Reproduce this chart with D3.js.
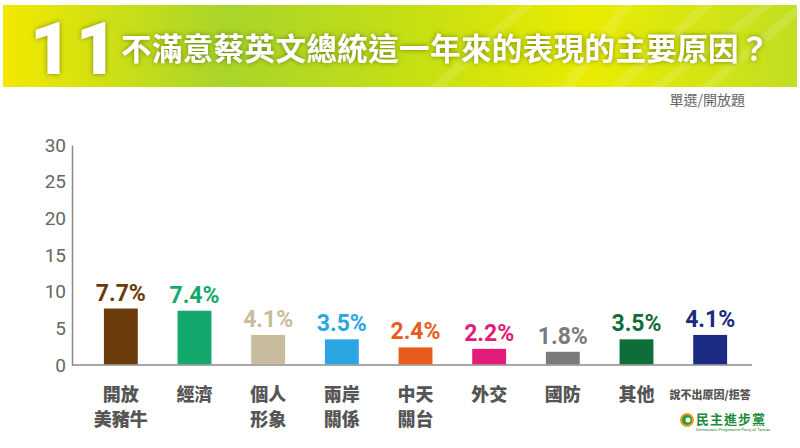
<!DOCTYPE html>
<html>
<head>
<meta charset="utf-8">
<script src="https://cdn.jsdelivr.net/npm/d3@7"></script>
<style>
  body { margin: 0; background: #fff; }
  svg { display: block; }
</style>
</head>
<body>
<script>
const width = 800;
const height = 448;

const categories = ['開放\n美豬牛', '經濟', '個人\n形象', '兩岸\n關係', '中天\n關台', '外交', '國防', '其他', '說不出原因/拒答'];
const values = [7.7, 7.4, 4.1, 3.5, 2.4, 2.2, 1.8, 3.5, 4.1];
const colors = ['#6b3b0c', '#14a96c', '#c9bb9d', '#2ba6e2', '#e85d1d', '#e31b7b', '#7b7b7b', '#0d6e3a', '#1b2a82'];
const yTicks = [0, 5, 10, 15, 20, 25, 30];

const svg = d3.select('body')
  .append('svg')
    .attr('width', width)
    .attr('height', height)
    .attr('viewBox', [0, 0, width, height].join(' '));

const defs = svg.append('defs');

const grad = defs.append('linearGradient')
  .attr('id', 'banner')
  .attr('x1', '0%').attr('x2', '100%');
[['0%', '#f2e900'], ['28%', '#a8d52a'], ['52%', '#c6df12'], ['74%', '#e9ec00'], ['100%', '#c2de22']]
  .forEach(([o, c]) => grad.append('stop').attr('offset', o).attr('stop-color', c));

const glow = defs.append('filter').attr('id', 'glow')
  .attr('x', '-20%').attr('y', '-20%').attr('width', '140%').attr('height', '140%');
glow.append('feDropShadow')
  .attr('dx', 0).attr('dy', 0).attr('stdDeviation', 2.5)
  .attr('flood-color', '#4a5a00').attr('flood-opacity', 0.7);

// banner
const banner = svg.append('g');
banner.append('rect')
  .attr('x', 3).attr('y', 5)
  .attr('width', 794).attr('height', 82)
  .attr('fill', 'url(#banner)');

// faint diagonal streaks on the banner
const streaks = [[560, 620], [610, 700], [650, 760], [700, 797], [430, 520]];
banner.selectAll('.streak')
  .data(streaks)
  .enter()
  .append('polygon')
    .attr('points', d => `${d[0]},87 ${d[0] + 14},87 ${d[1] + 14},5 ${d[1]},5`)
    .attr('fill', '#ffffff')
    .attr('opacity', 0.12);

banner.append('text')
  .attr('x', 30).attr('y', 74)
  .attr('font-family', 'Roboto, "Noto Sans", sans-serif')
  .attr('font-weight', 900)
  .attr('font-size', 72)
  .attr('fill', '#fff')
  .attr('letter-spacing', 4)
  .attr('filter', 'url(#glow)')
  .text('11');

banner.append('text')
  .attr('x', 121).attr('y', 60)
  .attr('font-family', '"Noto Sans CJK TC", sans-serif')
  .attr('font-weight', 700)
  .attr('font-size', 30.5)
  .attr('letter-spacing', 0.4)
  .attr('fill', '#fff')
  .attr('filter', 'url(#glow)')
  .text('不滿意蔡英文總統這一年來的表現的主要原因？');

svg.append('text')
  .attr('x', 745).attr('y', 105)
  .attr('text-anchor', 'end')
  .attr('font-family', '"Noto Sans CJK TC", sans-serif')
  .attr('font-size', 14)
  .attr('fill', '#666')
  .text('單選/開放題');

// chart
const x = d3.scaleBand()
  .domain(categories)
  .range([84, 747])
  .paddingInner(0.54)
  .paddingOuter(0.27);

const y = d3.scaleLinear()
  .domain([0, 30])
  .range([365, 145]);

const yAxis = d3.axisLeft(y)
  .tickValues(yTicks)
  .tickSize(0)
  .tickPadding(6);

const axisG = svg.append('g')
  .attr('transform', 'translate(72,0)')
  .call(yAxis);
axisG.select('.domain').attr('stroke', '#8a8a8a').attr('stroke-width', 1.5);
axisG.selectAll('text')
  .attr('font-family', 'Roboto, "Noto Sans", sans-serif')
  .attr('font-size', 19)
  .attr('fill', '#666');

svg.append('line')
  .attr('x1', 72).attr('x2', 752)
  .attr('y1', y(0)).attr('y2', y(0))
  .attr('stroke', '#8a8a8a')
  .attr('stroke-width', 1.5);

const bars = svg.append('g');

bars.selectAll('.bar')
  .data(values)
  .enter()
  .append('rect')
    .attr('class', 'bar')
    .attr('x', (d, i) => x(categories[i]))
    .attr('y', d => y(d))
    .attr('width', x.bandwidth())
    .attr('height', d => y(0) - y(d) - 0.75)
    .attr('fill', (d, i) => colors[i]);

bars.selectAll('.value')
  .data(values)
  .enter()
  .append('text')
    .attr('class', 'value')
    .attr('x', (d, i) => x(categories[i]) + x.bandwidth() / 2)
    .attr('y', d => y(d) - 8)
    .attr('text-anchor', 'middle')
    .attr('font-family', 'Roboto, "Noto Sans", sans-serif')
    .attr('font-weight', 700)
    .attr('font-size', 23)
    .attr('fill', (d, i) => colors[i])
    .text(d => d.toFixed(1) + '%');

// category labels, one text per line
const labels = svg.append('g');
categories.forEach((c, i) => {
  const cx = x(c) + x.bandwidth() / 2;
  const lines = c.split('\n');
  const small = lines.length === 1 && c.length > 4;
  lines.forEach((line, j) => {
    labels.append('text')
      .attr('x', cx)
      .attr('y', (small ? 399 : 401) + j * 24.5)
      .attr('text-anchor', 'middle')
      .attr('font-family', '"Noto Sans CJK TC", sans-serif')
      .attr('font-weight', 900)
      .attr('font-size', small ? 11 : 18)
      .attr('fill', '#555')
      .text(line);
  });
});

// party logo
const logo = svg.append('g').attr('transform', 'translate(687,420)');
logo.append('circle').attr('r', 7).attr('fill', '#e8a020');
logo.append('circle').attr('r', 5).attr('fill', '#2a9a3a');
logo.append('circle').attr('r', 2.5).attr('cx', 1).attr('fill', '#fff');
logo.append('text')
  .attr('x', 9).attr('y', 4)
  .attr('font-family', '"Noto Sans CJK TC", sans-serif')
  .attr('font-weight', 700)
  .attr('font-size', 13)
  .attr('letter-spacing', 1)
  .attr('fill', '#1c8a3a')
  .text('民主進步黨');
logo.append('text')
  .attr('x', 9).attr('y', 11)
  .attr('font-family', 'Roboto, sans-serif')
  .attr('font-size', 4.2)
  .attr('fill', '#1c8a3a')
  .text('Democratic Progressive Party of Taiwan');
</script>
</body>
</html>
